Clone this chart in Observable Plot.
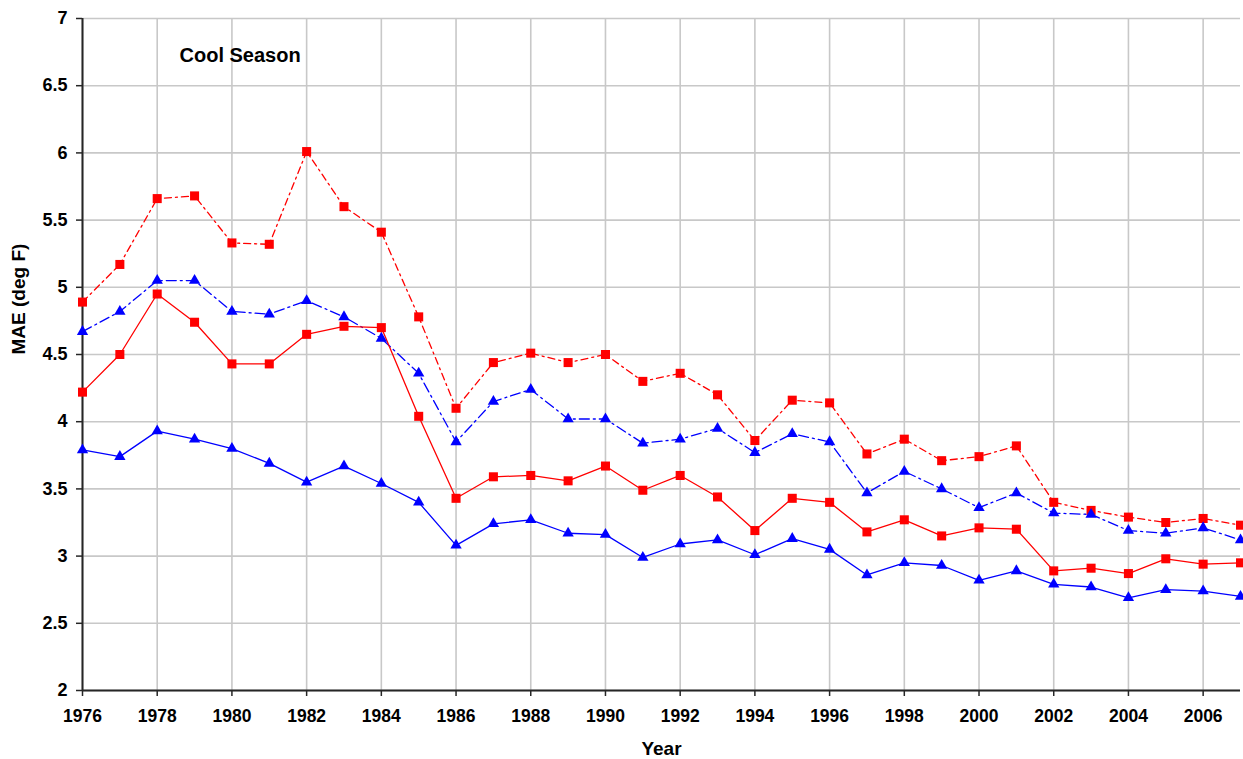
<!DOCTYPE html>
<html>
<head>
<meta charset="utf-8">
<script src="https://cdn.jsdelivr.net/npm/d3@7"></script>
<script src="https://cdn.jsdelivr.net/npm/@observablehq/plot@0.6"></script>
<style>
  html, body { margin: 0; padding: 0; background: #fff; }
  #chart svg { display: block; }
</style>
</head>
<body>
<div id="chart"></div>
<script>
const years = [1976, 1977, 1978, 1979, 1980, 1981, 1982, 1983, 1984, 1985, 1986, 1987, 1988, 1989, 1990, 1991,
               1992, 1993, 1994, 1995, 1996, 1997, 1998, 1999, 2000, 2001, 2002, 2003, 2004, 2005, 2006, 2007];

const redDashed = [4.89, 5.17, 5.66, 5.68, 5.33, 5.32, 6.01, 5.60, 5.41, 4.78, 4.10, 4.44, 4.51, 4.44, 4.50, 4.30,
                   4.36, 4.20, 3.86, 4.16, 4.14, 3.76, 3.87, 3.71, 3.74, 3.82, 3.40, 3.34, 3.29, 3.25, 3.28, 3.23];
const blueDashed = [4.67, 4.82, 5.05, 5.05, 4.82, 4.80, 4.90, 4.78, 4.62, 4.36, 3.85, 4.15, 4.24, 4.02, 4.02, 3.84,
                    3.87, 3.95, 3.77, 3.91, 3.85, 3.47, 3.63, 3.50, 3.36, 3.47, 3.32, 3.31, 3.19, 3.17, 3.21, 3.12];
const redSolid = [4.22, 4.50, 4.95, 4.74, 4.43, 4.43, 4.65, 4.71, 4.70, 4.04, 3.43, 3.59, 3.60, 3.56, 3.67, 3.49,
                  3.60, 3.44, 3.19, 3.43, 3.40, 3.18, 3.27, 3.15, 3.21, 3.20, 2.89, 2.91, 2.87, 2.98, 2.94, 2.95];
const blueSolid = [3.79, 3.74, 3.93, 3.87, 3.80, 3.69, 3.55, 3.67, 3.54, 3.40, 3.08, 3.24, 3.27, 3.17, 3.16, 2.99,
                   3.09, 3.12, 3.01, 3.13, 3.05, 2.86, 2.95, 2.93, 2.82, 2.89, 2.79, 2.77, 2.69, 2.75, 2.74, 2.70];

const xTicks = [1976, 1978, 1980, 1982, 1984, 1986, 1988, 1990, 1992, 1994, 1996, 1998, 2000, 2002, 2004, 2006];
const yTicks = [2, 2.5, 3, 3.5, 4, 4.5, 5, 5.5, 6, 6.5, 7];

const chartTitle = "Cool Season";
const xTitle = "Year";
const yTitle = "MAE (deg F)";

const toRows = (vals) => years.map((year, i) => ({year, value: vals[i]}));
const rd = toRows(redDashed), bd = toRows(blueDashed), rs = toRows(redSolid), bs = toRows(blueSolid);

const RED = "#ff0000", BLUE = "#0000ff";
const GRID = "#c8c8c8", AXIS = "#262626";

const chart = Plot.plot({
  width: 1243,
  height: 759,
  marginLeft: 82,
  marginRight: 3,
  marginTop: 18,
  marginBottom: 69,
  style: {fontFamily: "'Liberation Sans', Arial, sans-serif", fontWeight: "bold", color: "#000", background: "#fff"},
  x: {domain: [1976, 2007]},
  y: {domain: [2, 7]},
  marks: [
    Plot.gridX(xTicks, {stroke: GRID, strokeOpacity: 1, strokeWidth: 1.6}),
    Plot.gridY(yTicks, {stroke: GRID, strokeOpacity: 1, strokeWidth: 1.6}),
    Plot.axisX(xTicks, {tickSize: 6, tickPadding: 13, tickFormat: d => String(d), fontSize: 17.5, fontWeight: "bold", label: null, stroke: AXIS, strokeWidth: 1.5}),
    Plot.axisY(yTicks, {tickSize: 6, tickPadding: 9, tickFormat: d => String(d), fontSize: 18, fontWeight: "bold", label: null, stroke: AXIS, strokeWidth: 1.5}),
    Plot.ruleX([1976], {stroke: AXIS, strokeWidth: 2}),
    Plot.ruleY([2], {stroke: AXIS, strokeWidth: 2}),
    Plot.line(rd, {x: "year", y: "value", stroke: RED, strokeWidth: 1.3, strokeDasharray: "7,4,2,4"}),
    Plot.line(bd, {x: "year", y: "value", stroke: BLUE, strokeWidth: 1.3, strokeDasharray: "10,4,2,4"}),
    Plot.line(rs, {x: "year", y: "value", stroke: RED, strokeWidth: 1.3}),
    Plot.line(bs, {x: "year", y: "value", stroke: BLUE, strokeWidth: 1.3}),
    Plot.dot(rd, {x: "year", y: "value", symbol: "square", r: 5.1, fill: RED, stroke: "none"}),
    Plot.dot(bd, {x: "year", y: "value", symbol: "triangle", r: 4.2, fill: BLUE, stroke: "none"}),
    Plot.dot(rs, {x: "year", y: "value", symbol: "square", r: 5.1, fill: RED, stroke: "none"}),
    Plot.dot(bs, {x: "year", y: "value", symbol: "triangle", r: 4.2, fill: BLUE, stroke: "none"}),
    Plot.text([chartTitle], {frameAnchor: "top-left", dx: 97, dy: 37, textAnchor: "start", lineAnchor: "middle", fontSize: 20, fontWeight: "bold", fill: "#000"}),
    Plot.text([xTitle], {frameAnchor: "bottom", dy: 58, lineAnchor: "middle", fontSize: 19, fontWeight: "bold", fill: "#000"}),
    Plot.text([yTitle], {frameAnchor: "left", dx: -64, rotate: -90, lineAnchor: "middle", fontSize: 19, fontWeight: "bold", fill: "#000"})
  ]
});
document.getElementById("chart").appendChild(chart);
</script>
</body>
</html>
